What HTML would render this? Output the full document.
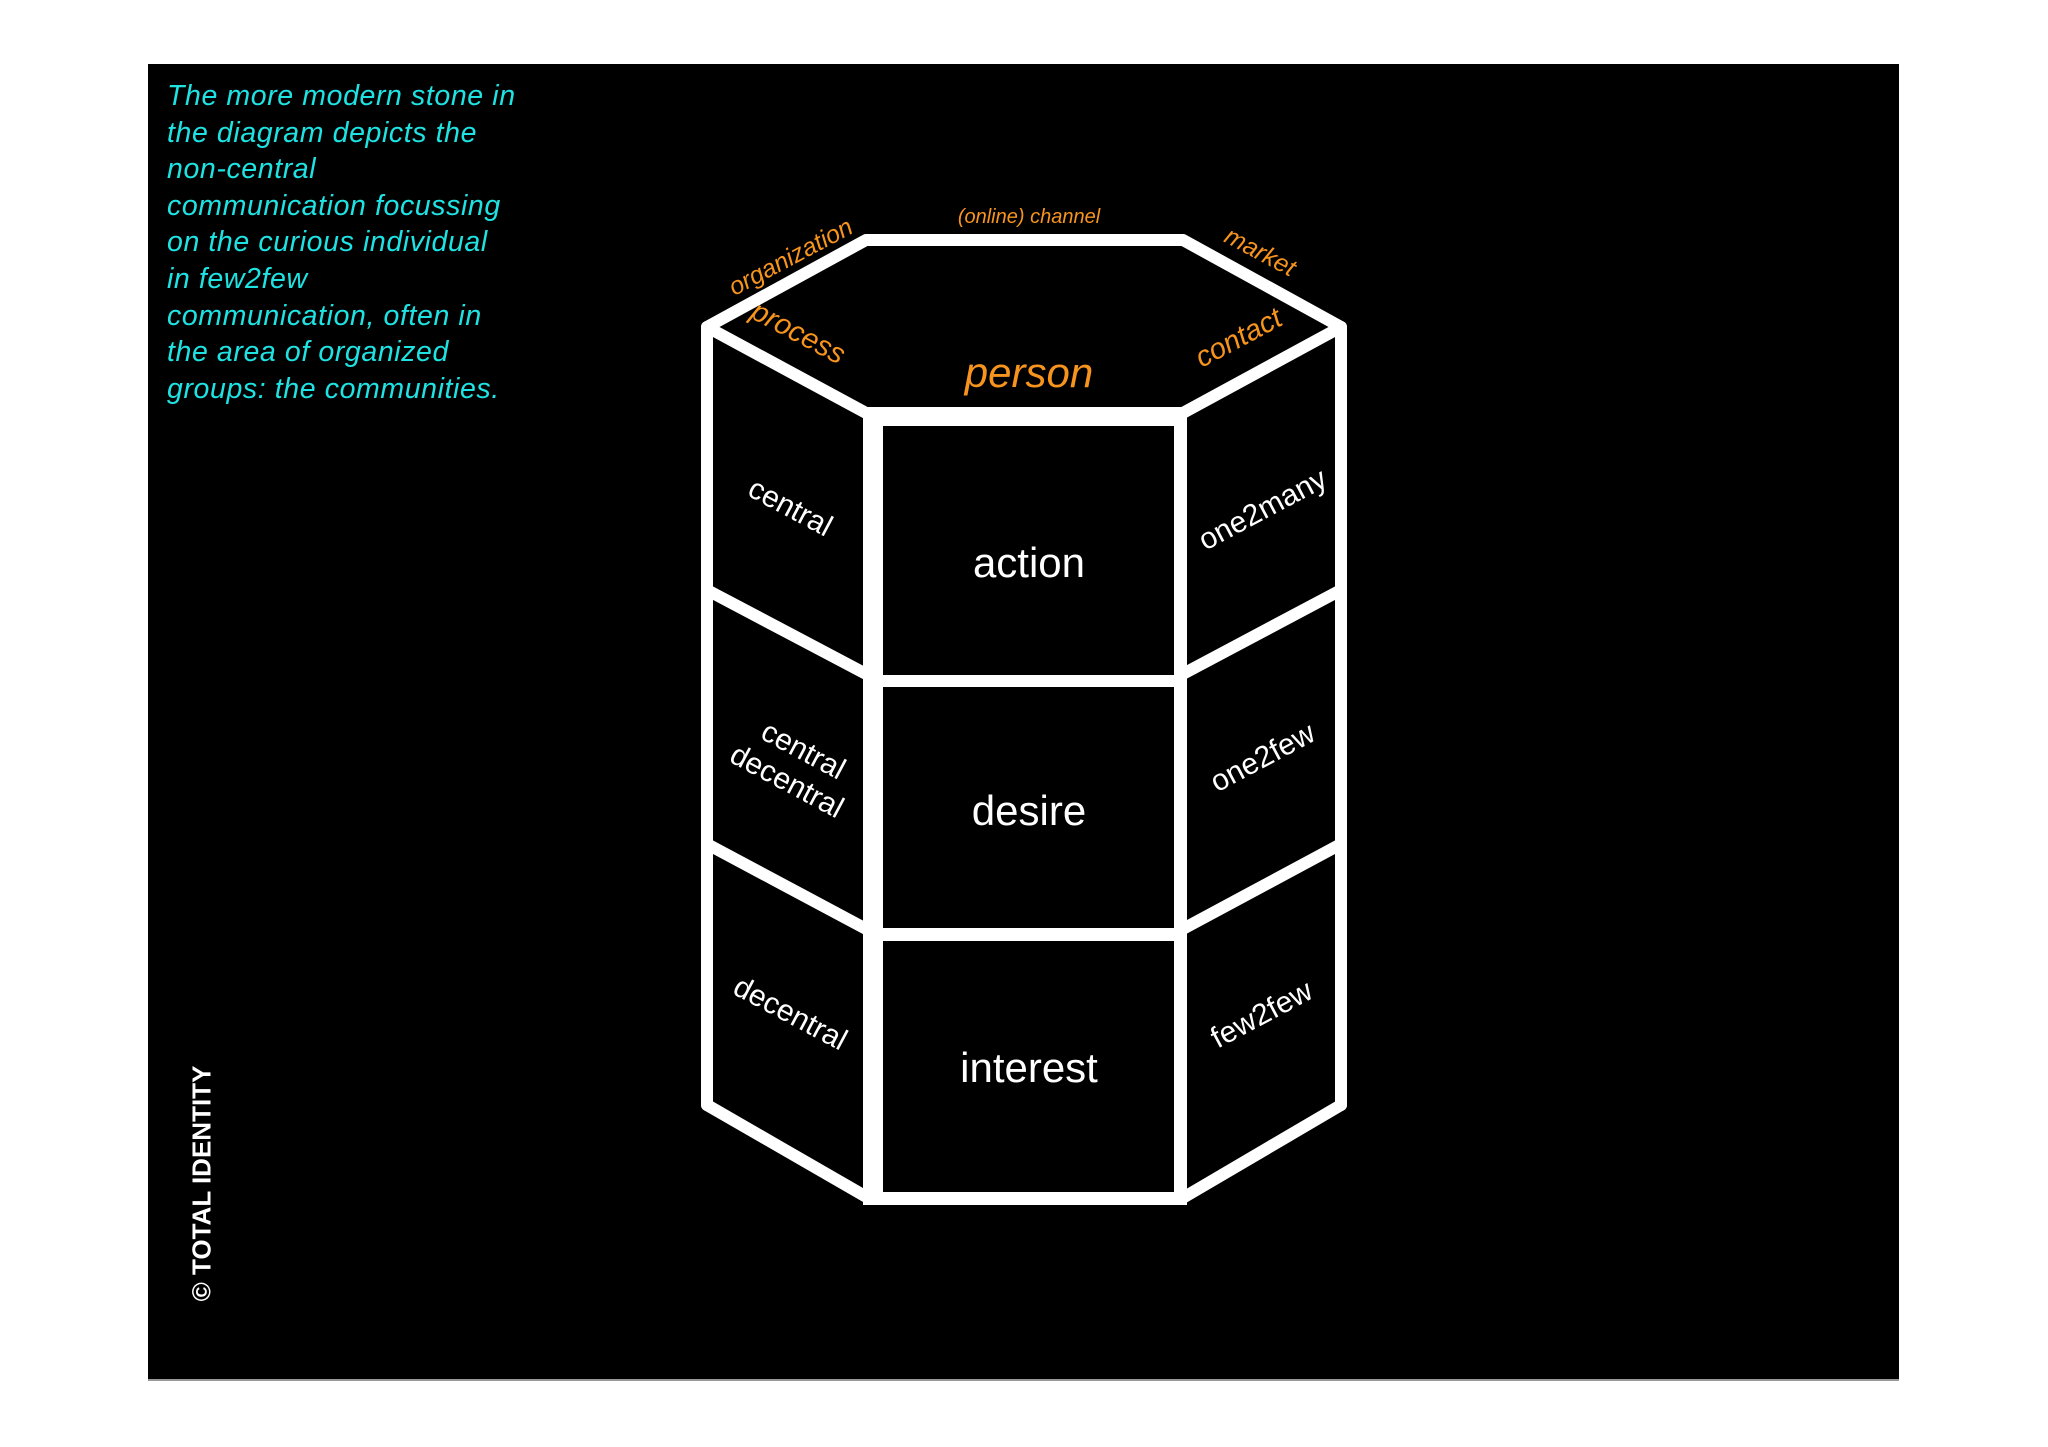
<!DOCTYPE html>
<html><head><meta charset="utf-8"><style>
body{margin:0;width:2048px;height:1447px;background:#fff;overflow:hidden;position:relative;font-family:"Liberation Sans",sans-serif}
#bg{position:absolute;left:148px;top:64px;width:1751px;height:1315px;background:#000;border-bottom:2px solid #999}
.t{position:absolute;white-space:nowrap;transform-origin:center center}
</style></head><body>
<div id="bg"></div>
<div class="t" style="left:167px;top:78px;color:#1fe3e3;font-style:italic;font-size:28.5px;letter-spacing:0.6px;line-height:36.6px;white-space:pre">The more modern stone in
the diagram depicts the
non-central
communication focussing
on the curious individual
in few2few
communication, often in
the area of organized
groups: the communities.</div>
<svg width="2048" height="1447" style="position:absolute;left:0;top:0">
<g fill="none" stroke="#fff" stroke-width="12" stroke-linejoin="round" stroke-linecap="round">
<polygon points="707,327 866,240 1183,240 1341,327 1181,414 868,414"/>
<line x1="707" y1="327" x2="707" y2="1105"/>
<line x1="1341" y1="327" x2="1341" y2="1105"/>
<line x1="707" y1="590" x2="868" y2="675"/>
<line x1="707" y1="844" x2="868" y2="930"/>
<line x1="707" y1="1105" x2="870" y2="1199"/>
<line x1="1341" y1="590" x2="1181" y2="675"/>
<line x1="1341" y1="844" x2="1181" y2="930"/>
<line x1="1341" y1="1105" x2="1181" y2="1199"/>
</g>
<rect x="863" y="407" width="324" height="798" fill="#fff"/>
<rect x="883" y="426" width="291" height="249" fill="#000"/>
<rect x="883" y="687" width="291" height="241" fill="#000"/>
<rect x="883" y="941" width="291" height="251" fill="#000"/>
</svg>
<div class="t" style="left:929px;top:539px;width:200px;text-align:center;color:#fff;font-size:42px">action</div>
<div class="t" style="left:929px;top:787px;width:200px;text-align:center;color:#fff;font-size:42px">desire</div>
<div class="t" style="left:929px;top:1044px;width:200px;text-align:center;color:#fff;font-size:42px">interest</div>
<div class="t" style="left:929px;top:349px;width:200px;text-align:center;color:#f7941d;font-size:42px;font-style:italic">person</div>
<div class="t" style="left:929px;top:206px;width:200px;text-align:center;color:#f7941d;font-size:20px;font-style:italic">(online) channel</div>
<div class="t" style="left:691px;top:243px;width:200px;text-align:center;color:#f7941d;font-size:25px;font-style:italic;transform:rotate(-28deg)">organization</div>
<div class="t" style="left:698px;top:317px;width:200px;text-align:center;color:#f7941d;font-size:29px;font-style:italic;transform:rotate(28deg)">process</div>
<div class="t" style="left:1160px;top:238px;width:200px;text-align:center;color:#f7941d;font-size:25px;font-style:italic;transform:rotate(28deg)">market</div>
<div class="t" style="left:1139px;top:322px;width:200px;text-align:center;color:#f7941d;font-size:29px;font-style:italic;transform:rotate(-28deg)">contact</div>
<div class="t" style="left:690px;top:491px;width:200px;text-align:center;color:#fff;font-size:30px;transform:rotate(28deg)">central</div>
<div class="t" style="left:695px;top:731px;width:200px;text-align:center;color:#fff;font-size:30px;line-height:35px;transform:rotate(28deg)">central<br>decentral</div>
<div class="t" style="left:690px;top:997px;width:200px;text-align:center;color:#fff;font-size:30px;transform:rotate(28deg)">decentral</div>
<div class="t" style="left:1163px;top:493px;width:200px;text-align:center;color:#fff;font-size:30px;transform:rotate(-28deg)">one2many</div>
<div class="t" style="left:1163px;top:741px;width:200px;text-align:center;color:#fff;font-size:30px;transform:rotate(-28deg)">one2few</div>
<div class="t" style="left:1162px;top:998px;width:200px;text-align:center;color:#fff;font-size:30px;transform:rotate(-28deg)">few2few</div>
<div class="t" style="left:62px;top:1168px;width:280px;text-align:center;color:#fff;font-size:26px;font-weight:600;transform:rotate(-90deg)">© TOTAL IDENTITY</div>
</body></html>
